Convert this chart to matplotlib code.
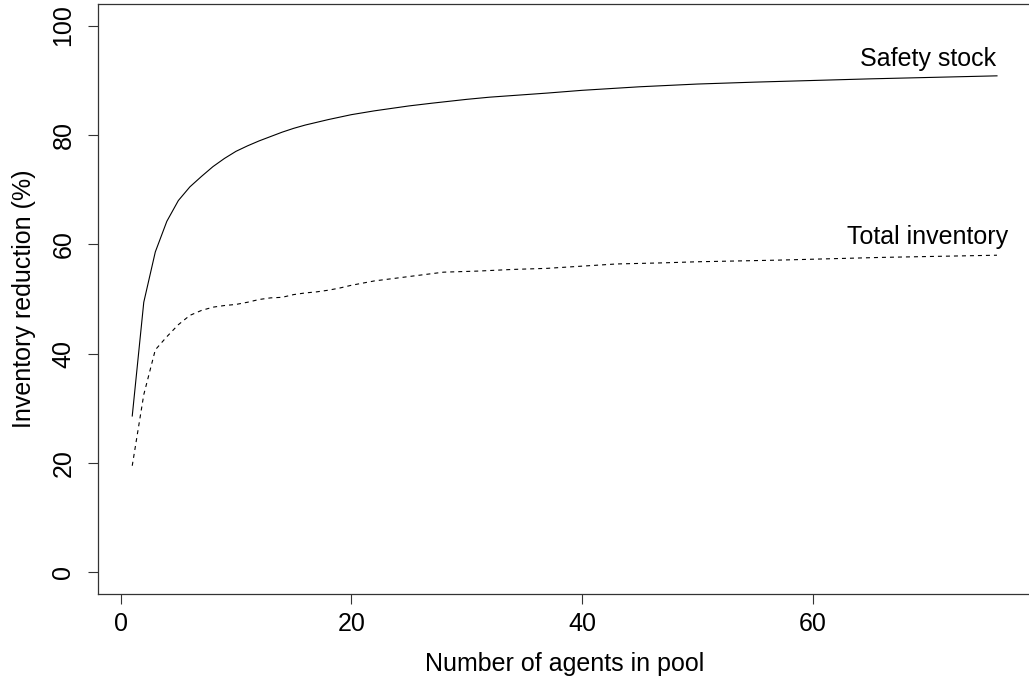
import numpy as np
from matplotlib import pyplot as plt

# values
safety_n = [1, 2, 3, 4, 5, 6, 7, 8, 9, 10, 11, 12, 13, 14, 15, 16, 17, 18, 20,
            22, 25, 27, 30, 32, 35, 37, 40, 45, 50, 55, 60, 65, 70, 76]
safety_pct = [28.6, 49.4, 58.6, 64.2, 68.0, 70.5, 72.4, 74.2, 75.7, 77.0, 78.0,
              78.9, 79.7, 80.5, 81.2, 81.8, 82.3, 82.8, 83.7, 84.4, 85.3, 85.8,
              86.5, 86.9, 87.35, 87.65, 88.15, 88.8, 89.3, 89.65, 89.95, 90.25,
              90.5, 90.8]

total_n = [1, 2, 3, 4, 5, 6, 7, 8, 9, 10, 11, 12, 13, 14, 15, 16, 17, 18, 19,
           20, 22, 25, 28, 31, 34, 37, 40, 43, 47, 50, 57, 66, 76]
total_pct = [19.5, 32.5, 40.7, 43.1, 45.3, 47.0, 47.9, 48.5, 48.8, 49.0, 49.4,
             49.9, 50.2, 50.3, 50.8, 51.1, 51.3, 51.6, 52.0, 52.5, 53.3, 54.1,
             54.9, 55.1, 55.4, 55.6, 56.0, 56.4, 56.6, 56.8, 57.1, 57.6, 58.0]

x_ticks = [0, 20, 40, 60]
y_ticks = [0, 20, 40, 60, 80, 100]

plt.rcParams['font.family'] = ['Liberation Sans', 'DejaVu Sans']
fs = 18

fig = plt.figure(figsize=(10.29, 6.77), dpi=100)
ax = fig.add_axes([0.0949, 0.1222, 0.9076, 0.8724])

lw = 0.8
ax.plot(safety_n, safety_pct, color='black', lw=lw)
ax.plot(total_n, total_pct, color='black', lw=lw, dashes=(3.6, 3.6))

ax.text(70, 93.8, "Safety stock", ha='center', va='center', fontsize=fs)
ax.text(70, 61.3, "Total inventory", ha='center', va='center', fontsize=fs)

ax.set_xlim(-2, 79)
ax.set_ylim(-4, 104)
ax.set_xticks(x_ticks)
ax.set_yticks(y_ticks)
ax.tick_params(axis='both', length=7, width=0.8, colors='#333333',
               labelcolor='black', labelsize=fs)
ax.tick_params(axis='x', pad=6)
ax.tick_params(axis='y', pad=9)
for lab in ax.get_yticklabels():
    lab.set_rotation(90)
    lab.set_va('center')

for s in ax.spines.values():
    s.set_linewidth(0.9)
    s.set_color('#333333')

ax.set_xlabel("Number of agents in pool", fontsize=fs, labelpad=11)
ax.set_ylabel("Inventory reduction (%)", fontsize=fs, labelpad=11)

fig.savefig("out.png", dpi=100)
